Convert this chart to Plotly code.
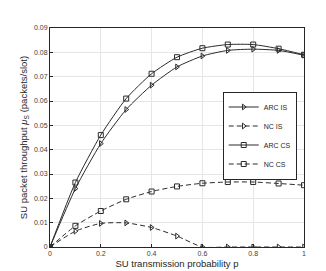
import plotly.graph_objects as go

p = [0, 0.1, 0.2, 0.3, 0.4, 0.5, 0.6, 0.7, 0.8, 0.9, 1.0]
arc_is = [0, 0.0240, 0.0425, 0.0565, 0.0665, 0.0740, 0.0785, 0.0808, 0.0813, 0.0808, 0.0788]
nc_is = [0, 0.0065, 0.0097, 0.0099, 0.0080, 0.0045, 0, 0, 0, 0, 0]
arc_cs = [0, 0.0265, 0.0460, 0.0610, 0.0712, 0.0780, 0.0817, 0.0832, 0.0832, 0.0815, 0.0790]
nc_cs = [0, 0.0087, 0.0148, 0.0196, 0.0228, 0.0249, 0.0262, 0.0267, 0.0267, 0.0261, 0.0254]

x_ticks = [0, 0.2, 0.4, 0.6, 0.8, 1]
x_tick_labels = ["0", "0.2", "0.4", "0.6", "0.8", "1"]
y_ticks = [0, 0.01, 0.02, 0.03, 0.04, 0.05, 0.06, 0.07, 0.08, 0.09]
y_tick_labels = ["0", "0.01", "0.02", "0.03", "0.04", "0.05", "0.06", "0.07", "0.08", "0.09"]

col = "#2b2b2b"
series = [
    ("ARC IS", arc_is, "solid", "triangle-right-open"),
    ("NC IS", nc_is, "5px,3px", "triangle-right-open"),
    ("ARC CS", arc_cs, "solid", "square-open"),
    ("NC CS", nc_cs, "5px,3px", "square-open"),
]

fig = go.Figure()
for name, ys, dash, sym in series:
    fig.add_trace(go.Scatter(
        x=p, y=ys, name=name, mode="lines+markers",
        line=dict(color=col, width=1, dash=dash, shape="spline", smoothing=0.6),
        marker=dict(symbol=sym, size=5, color=col, line=dict(width=1, color=col)),
    ))

fig.update_layout(
    width=326, height=271,
    margin=dict(l=42, r=30, t=20, b=32),
    paper_bgcolor="white", plot_bgcolor="white",
    font=dict(family="Liberation Sans, Arial, sans-serif", size=7, color="#404040"),
    showlegend=True,
    legend=dict(
        x=0.68, y=0.71, xanchor="left", yanchor="top",
        bgcolor="white", bordercolor="#262626", borderwidth=1,
        font=dict(size=7, color="#262626"),
        itemwidth=30,
    ),
)
axis_common = dict(
    showgrid=True, gridcolor="#e6e6e6", gridwidth=1,
    showline=True, linecolor="#262626", linewidth=1, mirror=True,
    ticks="inside", ticklen=3, tickcolor="#262626", zeroline=False,
    tickfont=dict(size=7, color="#404040"),
)
fig.update_xaxes(
    range=[0, 1], tickvals=x_ticks, ticktext=x_tick_labels,
    title=dict(text="SU transmission probability p", font=dict(size=9.5, color="#262626"), standoff=3),
    **axis_common,
)
fig.update_yaxes(
    range=[0, 0.09], tickvals=y_ticks, ticktext=y_tick_labels,
    title=dict(text="SU packet throughput <i>μ</i><sub>S</sub> (packets/slot)",
               font=dict(size=9.5, color="#262626"), standoff=4),
    **axis_common,
)

fig.write_html("out.html")
